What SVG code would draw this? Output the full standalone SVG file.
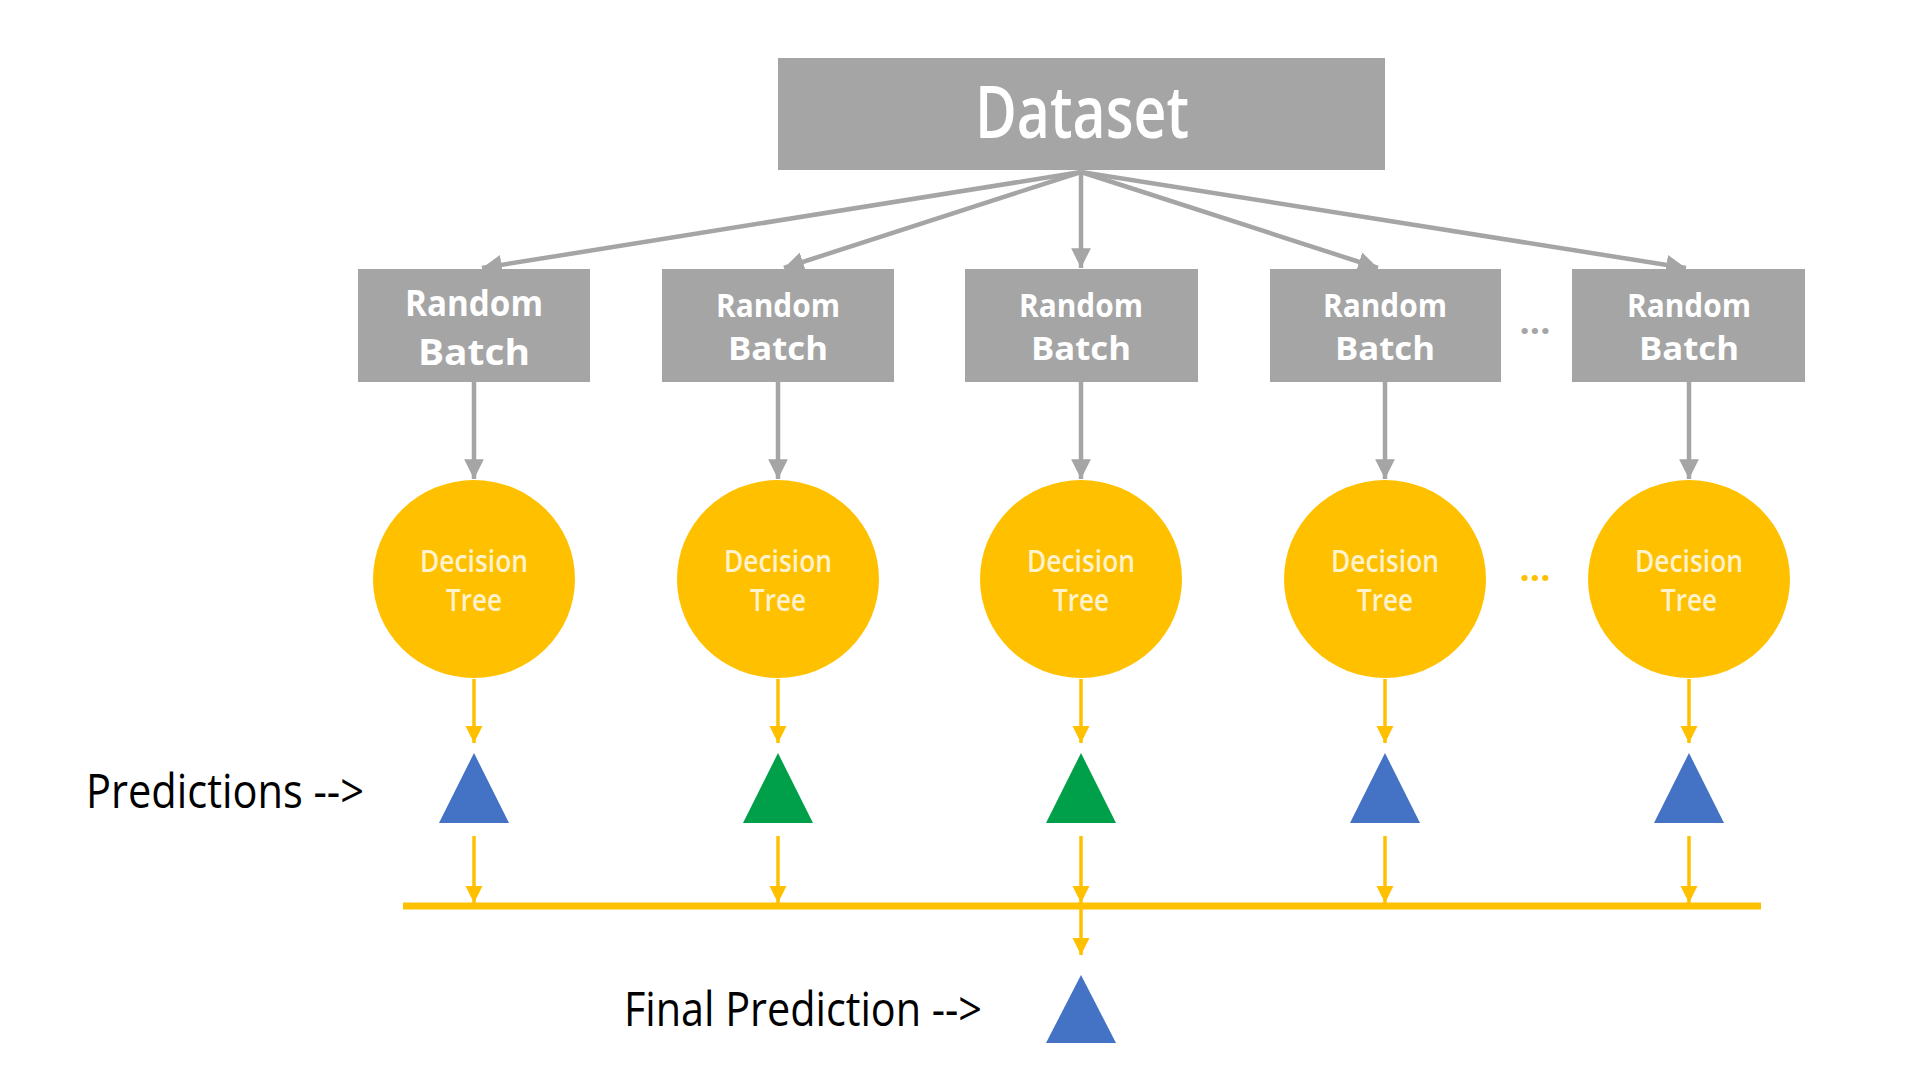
<svg xmlns="http://www.w3.org/2000/svg" width="1920" height="1080" viewBox="0 0 1920 1080">
<defs>
<style>
.box{fill:#A5A5A5}
.btxt{font-family:"Open Sans","Noto Sans",sans-serif;font-weight:bold;fill:#FFFFFF;text-anchor:middle}
.dtxt{font-family:"Open Sans","Noto Sans",sans-serif;font-weight:600;fill:#FFF2CC;text-anchor:middle;font-size:30px}
.tree{fill:#FFC000}
.g{stroke:#A5A5A5;stroke-width:4.5;fill:none}
.y{stroke:#FFC000;stroke-width:3.5;fill:none}
.blue{fill:#4472C4}
.green{fill:#00A04A}
.lbl{font-family:"Open Sans","Noto Sans",sans-serif;fill:#000000;font-size:48px}
</style>
<marker id="ag" viewBox="0 0 10 10" refX="10" refY="5" markerWidth="4.4" markerHeight="4.4" orient="auto" markerUnits="strokeWidth">
<path d="M0,0 L10,5 L0,10 z" fill="#A5A5A5"/>
</marker>
<marker id="ay" viewBox="0 0 10 10" refX="10" refY="5" markerWidth="5" markerHeight="5" orient="auto" markerUnits="strokeWidth">
<path d="M0,0 L10,5 L0,10 z" fill="#FFC000"/>
</marker>
</defs>
<rect width="1920" height="1080" fill="#FFFFFF"/>

<g id="connectors">
<line class="g" x1="1081" y1="172" x2="482" y2="268" marker-end="url(#ag)"/>
<line class="g" x1="1081" y1="172" x2="784" y2="268" marker-end="url(#ag)"/>
<line class="g" x1="1081" y1="172" x2="1081" y2="268" marker-end="url(#ag)"/>
<line class="g" x1="1081" y1="172" x2="1378" y2="268" marker-end="url(#ag)"/>
<line class="g" x1="1081" y1="172" x2="1686" y2="268" marker-end="url(#ag)"/>

<line class="g" x1="474" y1="382" x2="474" y2="479" marker-end="url(#ag)"/>
<line class="g" x1="778" y1="382" x2="778" y2="479" marker-end="url(#ag)"/>
<line class="g" x1="1081" y1="382" x2="1081" y2="479" marker-end="url(#ag)"/>
<line class="g" x1="1385" y1="382" x2="1385" y2="479" marker-end="url(#ag)"/>
<line class="g" x1="1689" y1="382" x2="1689" y2="479" marker-end="url(#ag)"/>

<line class="y" x1="474" y1="679" x2="474" y2="743" marker-end="url(#ay)"/>
<line class="y" x1="778" y1="679" x2="778" y2="743" marker-end="url(#ay)"/>
<line class="y" x1="1081" y1="679" x2="1081" y2="743" marker-end="url(#ay)"/>
<line class="y" x1="1385" y1="679" x2="1385" y2="743" marker-end="url(#ay)"/>
<line class="y" x1="1689" y1="679" x2="1689" y2="743" marker-end="url(#ay)"/>

<line class="y" x1="474" y1="836" x2="474" y2="903" marker-end="url(#ay)"/>
<line class="y" x1="778" y1="836" x2="778" y2="903" marker-end="url(#ay)"/>
<line class="y" x1="1081" y1="836" x2="1081" y2="903" marker-end="url(#ay)"/>
<line class="y" x1="1385" y1="836" x2="1385" y2="903" marker-end="url(#ay)"/>
<line class="y" x1="1689" y1="836" x2="1689" y2="903" marker-end="url(#ay)"/>

<line x1="403" y1="906" x2="1761" y2="906" stroke="#FFC000" stroke-width="7"/>
<line class="y" x1="1081" y1="906" x2="1081" y2="955" marker-end="url(#ay)"/>
</g>

<g id="dataset">
<rect class="box" x="778" y="58" width="607" height="112"/>
<text x="1082" y="138" font-family="Open Sans, Noto Sans, sans-serif" font-weight="600" font-size="72" fill="#FFFFFF" text-anchor="middle" textLength="214" lengthAdjust="spacingAndGlyphs">Dataset</text>
</g>

<g id="batch1">
<rect class="box" x="358" y="269" width="232" height="113"/>
<text class="btxt" x="474" y="316" font-size="36" textLength="138" lengthAdjust="spacingAndGlyphs">Random</text>
<text class="btxt" x="474" y="365" font-size="36" textLength="112" lengthAdjust="spacingAndGlyphs">Batch</text>
</g>
<g id="batch2">
<rect class="box" x="662" y="269" width="232" height="113"/>
<text class="btxt" x="778" y="317" font-size="32" textLength="124" lengthAdjust="spacingAndGlyphs">Random</text>
<text class="btxt" x="778" y="360" font-size="32" textLength="100" lengthAdjust="spacingAndGlyphs">Batch</text>
</g>
<g id="batch3">
<rect class="box" x="965" y="269" width="233" height="113"/>
<text class="btxt" x="1081" y="317" font-size="32" textLength="124" lengthAdjust="spacingAndGlyphs">Random</text>
<text class="btxt" x="1081" y="360" font-size="32" textLength="100" lengthAdjust="spacingAndGlyphs">Batch</text>
</g>
<g id="batch4">
<rect class="box" x="1270" y="269" width="231" height="113"/>
<text class="btxt" x="1385" y="317" font-size="32" textLength="124" lengthAdjust="spacingAndGlyphs">Random</text>
<text class="btxt" x="1385" y="360" font-size="32" textLength="100" lengthAdjust="spacingAndGlyphs">Batch</text>
</g>
<g id="batch5">
<rect class="box" x="1572" y="269" width="233" height="113"/>
<text class="btxt" x="1689" y="317" font-size="32" textLength="124" lengthAdjust="spacingAndGlyphs">Random</text>
<text class="btxt" x="1689" y="360" font-size="32" textLength="100" lengthAdjust="spacingAndGlyphs">Batch</text>
</g>
<g id="dots-batch">
<text x="1535" y="334" font-family="Open Sans, sans-serif" font-size="36" font-weight="bold" fill="#A5A5A5" text-anchor="middle">...</text>
</g>

<g id="tree1">
<ellipse class="tree" cx="474" cy="579" rx="101" ry="99"/>
<text class="dtxt" x="474" y="572" textLength="108" lengthAdjust="spacingAndGlyphs">Decision</text>
<text class="dtxt" x="474" y="611" textLength="56" lengthAdjust="spacingAndGlyphs">Tree</text>
</g>
<g id="tree2">
<ellipse class="tree" cx="778" cy="579" rx="101" ry="99"/>
<text class="dtxt" x="778" y="572" textLength="108" lengthAdjust="spacingAndGlyphs">Decision</text>
<text class="dtxt" x="778" y="611" textLength="56" lengthAdjust="spacingAndGlyphs">Tree</text>
</g>
<g id="tree3">
<ellipse class="tree" cx="1081" cy="579" rx="101" ry="99"/>
<text class="dtxt" x="1081" y="572" textLength="108" lengthAdjust="spacingAndGlyphs">Decision</text>
<text class="dtxt" x="1081" y="611" textLength="56" lengthAdjust="spacingAndGlyphs">Tree</text>
</g>
<g id="tree4">
<ellipse class="tree" cx="1385" cy="579" rx="101" ry="99"/>
<text class="dtxt" x="1385" y="572" textLength="108" lengthAdjust="spacingAndGlyphs">Decision</text>
<text class="dtxt" x="1385" y="611" textLength="56" lengthAdjust="spacingAndGlyphs">Tree</text>
</g>
<g id="tree5">
<ellipse class="tree" cx="1689" cy="579" rx="101" ry="99"/>
<text class="dtxt" x="1689" y="572" textLength="108" lengthAdjust="spacingAndGlyphs">Decision</text>
<text class="dtxt" x="1689" y="611" textLength="56" lengthAdjust="spacingAndGlyphs">Tree</text>
</g>
<g id="dots-tree">
<text x="1535" y="581" font-family="Open Sans, sans-serif" font-size="36" font-weight="bold" fill="#FFC000" text-anchor="middle">...</text>
</g>

<g id="pred1"><polygon class="blue" points="474,753 509,823 439,823"/></g>
<g id="pred2"><polygon class="green" points="778,753 813,823 743,823"/></g>
<g id="pred3"><polygon class="green" points="1081,753 1116,823 1046,823"/></g>
<g id="pred4"><polygon class="blue" points="1385,753 1420,823 1350,823"/></g>
<g id="pred5"><polygon class="blue" points="1689,753 1724,823 1654,823"/></g>
<g id="final"><polygon class="blue" points="1081,975 1116,1043 1046,1043"/></g>

<g id="labels">
<text class="lbl" x="86" y="808" textLength="278" lengthAdjust="spacingAndGlyphs">Predictions --&gt;</text>
<text class="lbl" x="624" y="1026" textLength="358" lengthAdjust="spacingAndGlyphs">Final Prediction --&gt;</text>
</g>
</svg>
